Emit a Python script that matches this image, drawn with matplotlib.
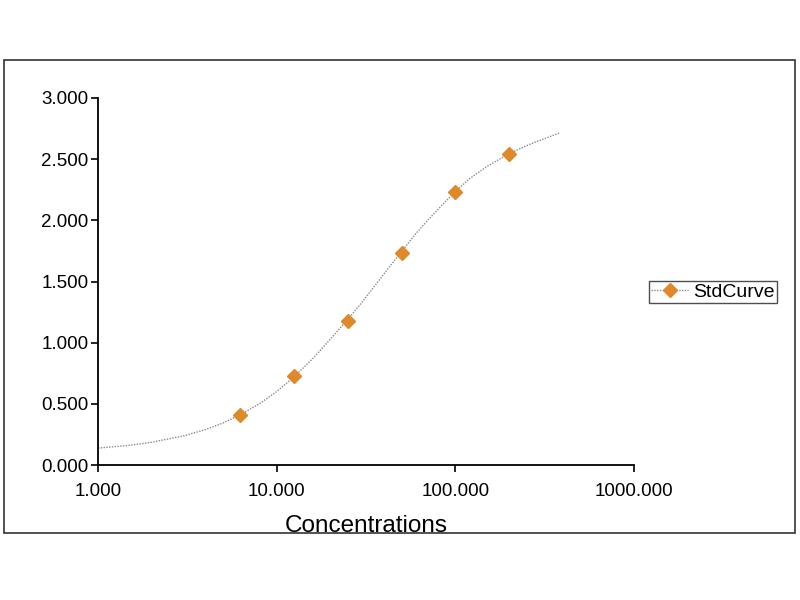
import matplotlib
matplotlib.use("Agg")
import matplotlib.pyplot as plt
from matplotlib.patches import Rectangle

plt.rcParams['font.family'] = ['Liberation Sans', 'DejaVu Sans']

# Standard points
conc = [6.25, 12.5, 25, 50, 100, 200]
od = [0.41, 0.725, 1.18, 1.735, 2.235, 2.545]

# Fitted curve
curve_x = [1, 1.5, 2, 3, 4, 5, 6.25, 8, 10, 12.5, 16, 20, 25, 30, 35, 42, 50,
           60, 70, 85, 100, 120, 150, 200, 250, 300, 385]
curve_y = [0.138, 0.161, 0.186, 0.237, 0.29, 0.343, 0.41, 0.50, 0.60, 0.72,
           0.873, 1.03, 1.19, 1.33, 1.455, 1.605, 1.745, 1.89, 2.0, 2.13,
           2.235, 2.34, 2.44, 2.545, 2.61, 2.656, 2.715]

x_ticks = [1, 10, 100, 1000]
x_tick_labels = ["1.000", "10.000", "100.000", "1000.000"]
y_ticks = [0, 0.5, 1.0, 1.5, 2.0, 2.5, 3.0]
y_tick_labels = ["0.000", "0.500", "1.000", "1.500", "2.000", "2.500", "3.000"]

fig = plt.figure(figsize=(8, 6), dpi=100)
fig.patch.set_facecolor("white")
fig.add_artist(Rectangle((4/800, 1-533/600), (795-4)/800, (533-60)/600,
                         transform=fig.transFigure, fill=False,
                         edgecolor="#333333", lw=1.2))

ax = fig.add_axes([98/800, 1-465/600, (634-98)/800, (465-98)/600])
ax.set_xscale("log")
ax.plot(curve_x, curve_y, linestyle=(0, (1, 1)), color="#8a8a8a", lw=1.0,
        zorder=2)
ax.plot(conc, od, linestyle="none", marker="D", markersize=7.5,
        color="#E0892A", markeredgecolor="#E0892A", zorder=3)

# legend proxy
ax.plot([], [], linestyle=(0, (1, 1)), color="#8a8a8a", lw=1.0, marker="D",
        markersize=7.5, markerfacecolor="#E0892A", markeredgecolor="#E0892A",
        label="StdCurve")

ax.set_xlim(1, 1000)
ax.set_ylim(0, 3)
ax.set_xticks(x_ticks)
ax.set_xticklabels(x_tick_labels)
ax.set_yticks(y_ticks)
ax.set_yticklabels(y_tick_labels)
ax.minorticks_off()
ax.tick_params(axis="both", which="major", labelsize=13.5, length=5,
               width=1.2, direction="out", colors="black", pad=2)
ax.tick_params(axis="x", pad=8)
for s in ["top", "right"]:
    ax.spines[s].set_visible(False)
for s in ["left", "bottom"]:
    ax.spines[s].set_linewidth(1.3)
    ax.spines[s].set_color("black")

ax.set_xlabel("Concentrations", fontsize=17.5, labelpad=11)

leg = fig.legend(loc="center left", bbox_to_anchor=(649/800, 1-292/600),
                 fontsize=14, frameon=True, fancybox=False, handlelength=1.9,
                 handletextpad=0.25, borderpad=0.12, borderaxespad=0)
leg.get_frame().set_edgecolor("#222222")
leg.get_frame().set_linewidth(1.0)

fig.savefig("out.png", dpi=100, facecolor="white")
